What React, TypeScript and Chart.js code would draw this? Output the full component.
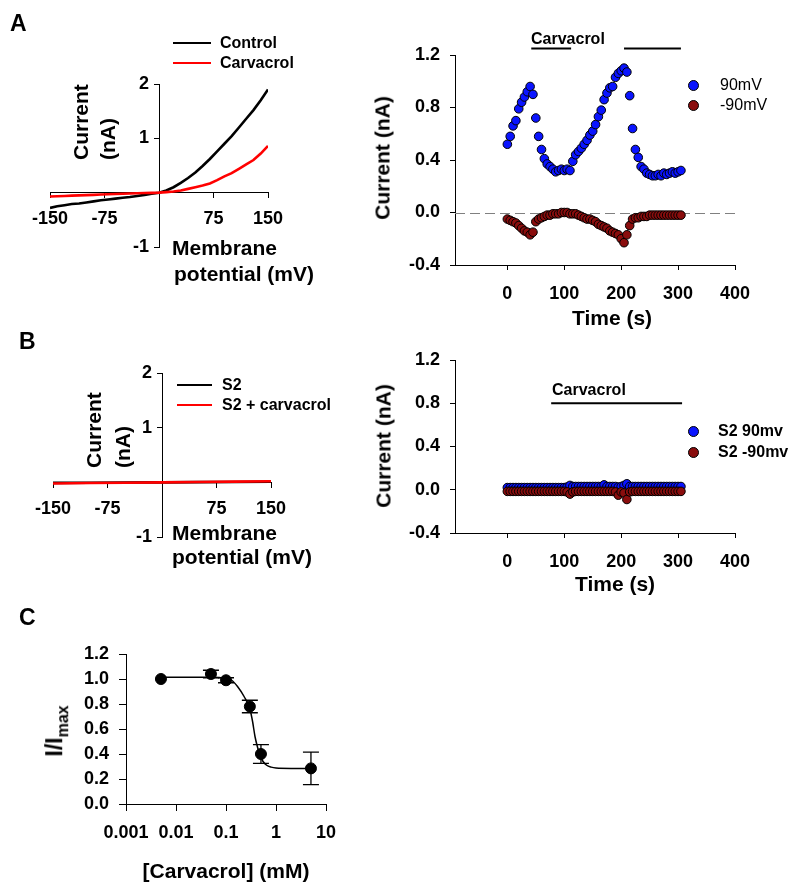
import React, { useEffect, useRef } from "react";
import { Chart, registerables } from "chart.js";
Chart.register(...registerables);

const FONT = "'Liberation Sans', Arial, Helvetica, sans-serif";
const W = 800;
const H = 895;

// ---------- Panel A / B : I-V curves ----------
const ivVoltage = [-150, -140, -130, -120, -110, -100, -90, -80, -70, -60, -50, -40, -30, -20, -10, 0, 10, 20, 30, 40, 50, 60, 70, 80, 90, 100, 110, 120, 130, 140, 150];
const ivControl = [-0.28, -0.25, -0.23, -0.21, -0.2, -0.18, -0.16, -0.14, -0.125, -0.11, -0.095, -0.08, -0.06, -0.04, -0.02, 0, 0.04, 0.1, 0.18, 0.27, 0.37, 0.49, 0.62, 0.76, 0.9, 1.04, 1.2, 1.36, 1.52, 1.7, 1.9];
const ivCarvacrol = [-0.07, -0.065, -0.06, -0.055, -0.05, -0.045, -0.04, -0.035, -0.03, -0.025, -0.02, -0.015, -0.01, -0.007, -0.003, 0, 0.01, 0.02, 0.04, 0.07, 0.1, 0.13, 0.17, 0.23, 0.3, 0.36, 0.44, 0.52, 0.6, 0.72, 0.86];
const ivS2Voltage = [-150, -100, -50, 0, 50, 100, 150];
const ivS2 = [-0.01, -0.007, -0.003, 0, 0.003, 0.007, 0.01];
const ivS2Carvacrol = [-0.02, -0.013, -0.007, 0, 0.007, 0.013, 0.02];
const ivXTicks = [-150, -75, 0, 75, 150];
const ivYTicks = [-1, 0, 1, 2];

// ---------- Panel A / B : time courses ----------
const timeSec = [0, 5, 10, 15, 20, 25, 30, 35, 40, 45, 50, 55, 60, 65, 70, 75, 80, 85, 90, 95, 100, 105, 110, 115, 120, 125, 130, 135, 140, 145, 150, 155, 160, 165, 170, 175, 180, 185, 190, 195, 200, 205, 210, 215, 220, 225, 230, 235, 240, 245, 250, 255, 260, 265, 270, 275, 280, 285, 290, 295, 300, 305];
const a90mV = [0.52, 0.58, 0.66, 0.7, 0.79, 0.84, 0.88, 0.92, 0.96, 0.9, 0.72, 0.58, 0.48, 0.41, 0.37, 0.35, 0.33, 0.31, 0.32, 0.33, 0.32, 0.33, 0.32, 0.39, 0.44, 0.465, 0.49, 0.52, 0.55, 0.59, 0.62, 0.67, 0.73, 0.78, 0.86, 0.91, 0.95, 0.96, 1.03, 1.06, 1.08, 1.1, 1.07, 0.89, 0.64, 0.48, 0.42, 0.35, 0.33, 0.3, 0.29, 0.28, 0.28, 0.29, 0.28, 0.3, 0.29, 0.3, 0.31, 0.3, 0.31, 0.32];
const aMinus90mV = [-0.05, -0.06, -0.07, -0.08, -0.1, -0.12, -0.14, -0.15, -0.17, -0.15, -0.07, -0.05, -0.04, -0.03, -0.02, -0.02, -0.01, -0.01, -0.01, 0, 0, 0, -0.01, -0.01, -0.01, -0.02, -0.03, -0.04, -0.05, -0.05, -0.06, -0.07, -0.09, -0.1, -0.11, -0.12, -0.14, -0.15, -0.16, -0.17, -0.2, -0.23, -0.17, -0.1, -0.05, -0.04, -0.04, -0.03, -0.03, -0.03, -0.02, -0.02, -0.02, -0.02, -0.02, -0.02, -0.02, -0.02, -0.02, -0.02, -0.02, -0.02];
const bS2_90mv = [0.02, 0.02, 0.02, 0.02, 0.02, 0.02, 0.02, 0.02, 0.02, 0.02, 0.02, 0.02, 0.02, 0.02, 0.02, 0.02, 0.02, 0.02, 0.02, 0.02, 0.02, 0.025, 0.04, 0.03, 0.03, 0.03, 0.03, 0.03, 0.03, 0.03, 0.03, 0.03, 0.03, 0.03, 0.045, 0.03, 0.03, 0.03, 0.03, 0.025, 0.03, 0.04, 0.055, 0.03, 0.03, 0.03, 0.03, 0.03, 0.03, 0.03, 0.03, 0.03, 0.03, 0.03, 0.03, 0.03, 0.03, 0.03, 0.03, 0.03, 0.03, 0.03];
const bS2_m90mv = [-0.015, -0.015, -0.015, -0.015, -0.015, -0.015, -0.015, -0.015, -0.015, -0.015, -0.015, -0.015, -0.015, -0.015, -0.015, -0.015, -0.015, -0.015, -0.015, -0.015, -0.015, -0.02, -0.04, -0.02, -0.015, -0.015, -0.015, -0.015, -0.015, -0.015, -0.015, -0.015, -0.015, -0.015, -0.015, -0.015, -0.015, -0.015, -0.02, -0.05, -0.02, -0.03, -0.09, -0.02, -0.015, -0.015, -0.015, -0.015, -0.015, -0.015, -0.015, -0.015, -0.015, -0.015, -0.015, -0.015, -0.015, -0.015, -0.015, -0.015, -0.015, -0.015];
const timeXTicks = [0, 100, 200, 300, 400];
const timeYTicks = [-0.4, 0, 0.4, 0.8, 1.2];
const carvacrolSpansA = [[42, 112], [205, 305]];
const carvacrolLevelA = 1.25;
const carvacrolSpansB = [[77, 307]];
const carvacrolLevelB = 0.8;

// ---------- Panel C : dose response ----------
const doseConc = [0.005, 0.05, 0.1, 0.3, 0.5, 5];
const doseResp = [1.0, 1.04, 0.99, 0.78, 0.4, 0.285];
const doseErr = [0, 0.03, 0.02, 0.05, 0.075, 0.13];
const fitConc = [0.005, 0.05, 0.1, 0.13, 0.17, 0.23, 0.3, 0.34, 0.38, 0.43, 0.48, 0.55, 0.65, 0.8, 1, 2, 5];
const fitResp = [1.015, 1.015, 1.005, 0.99, 0.94, 0.86, 0.76, 0.66, 0.54, 0.45, 0.39, 0.34, 0.31, 0.295, 0.288, 0.285, 0.285];
const doseXTicks = [0.001, 0.01, 0.1, 1, 10];
const doseYTicks = [0, 0.2, 0.4, 0.6, 0.8, 1.0, 1.2];

const BLUE = "#0a14ff";
const MAROON = "#8a0d0d";

const tickFont = { family: FONT, size: 18, weight: "bold" as const };

function axisStyle(tickLength: number, padding: number) {
  return {
    ticks: { font: tickFont, color: "#000", padding, maxRotation: 0, autoSkip: false },
    grid: { display: true, drawOnChartArea: false, drawTicks: true, tickLength, color: "#000", lineWidth: 1 },
    border: { display: true, color: "#000", width: 1 },
  };
}

function setTicks(values: number[]) {
  return (s: any) => {
    s.ticks = values.map((v) => ({ value: v }));
  };
}

const baseOptions = {
  animation: false,
  responsive: false,
  devicePixelRatio: 1,
  events: [],
  plugins: { legend: { display: false }, tooltip: { enabled: false } },
};

type Area = { l: number; r: number; t: number; b: number };

function ivConfig(area: Area, v1: number[], y1: number[], v2: number[], y2: number[]) {
  const xs = axisStyle(5, 11);
  const ys = axisStyle(5, 7);
  return {
    type: "line",
    data: {
      datasets: [
        { data: v2.map((v, i) => ({ x: v, y: y2[i] })), borderColor: "#ff0000", borderWidth: 2.6, pointRadius: 0, order: 0 },
        { data: v1.map((v, i) => ({ x: v, y: y1[i] })), borderColor: "#000000", borderWidth: 2.6, pointRadius: 0, order: 1 },
      ],
    },
    options: {
      ...baseOptions,
      layout: { padding: { left: area.l, right: W - area.r, top: area.t, bottom: H - area.b } },
      scales: {
        x: {
          type: "linear", min: -150, max: 150, position: { y: 0 },
          afterFit: (s: any) => { s.height = 0; },
          afterBuildTicks: setTicks(ivXTicks),
          ...xs,
          ticks: { ...xs.ticks, callback: (v: any) => (v === 0 ? "" : String(v)) },
        },
        y: {
          type: "linear", min: -1, max: 2, position: { x: 0 },
          afterFit: (s: any) => { s.width = 0; },
          afterBuildTicks: setTicks(ivYTicks),
          ...ys,
          // the centred axis draws its labels flush with the axis line: keep a gap
          ticks: { ...ys.ticks, callback: (v: any) => (v === 0 ? "" : String(v) + "  ") },
        },
      },
    },
  };
}

function barsPlugin(spans: number[][], level: number) {
  return {
    id: "carvacrolBars",
    afterDraw(chart: any) {
      const { ctx, scales } = chart;
      const y = scales.y.getPixelForValue(level);
      ctx.save();
      ctx.strokeStyle = "#000";
      ctx.lineWidth = 2;
      spans.forEach(([a, b]) => {
        ctx.beginPath();
        ctx.moveTo(scales.x.getPixelForValue(a), y);
        ctx.lineTo(scales.x.getPixelForValue(b), y);
        ctx.stroke();
      });
      ctx.restore();
    },
  };
}

const zeroDashPlugin = {
  id: "zeroDash",
  beforeDatasetsDraw(chart: any) {
    const { ctx, chartArea, scales } = chart;
    const y = Math.round(scales.y.getPixelForValue(0)) + 0.5;
    ctx.save();
    ctx.strokeStyle = "#808080";
    ctx.lineWidth = 1;
    ctx.setLineDash([10, 5]);
    ctx.beginPath();
    ctx.moveTo(chartArea.left, y);
    ctx.lineTo(chartArea.right, y);
    ctx.stroke();
    ctx.restore();
  },
};

function timeConfig(area: Area, pos: number[], neg: number[], plugins: any[]) {
  const xs = axisStyle(5, 13);
  const ys = axisStyle(5, 10);
  return {
    type: "scatter",
    data: {
      datasets: [
        { data: timeSec.map((t, i) => ({ x: t, y: neg[i] })), backgroundColor: MAROON, borderColor: "#000", borderWidth: 1, pointRadius: 4.3, order: 0 },
        { data: timeSec.map((t, i) => ({ x: t, y: pos[i] })), backgroundColor: BLUE, borderColor: "#000", borderWidth: 1, pointRadius: 4.3, order: 1 },
      ],
    },
    options: {
      ...baseOptions,
      layout: { padding: { left: area.l - 60, right: W - area.r, top: area.t, bottom: H - area.b - 50 } },
      scales: {
        x: {
          type: "linear", min: -92, max: 400, position: "bottom",
          afterFit: (s: any) => { s.height = 50; },
          afterBuildTicks: setTicks(timeXTicks),
          ...xs,
          ticks: { ...xs.ticks, callback: (v: any) => String(v) },
        },
        y: {
          type: "linear", min: -0.4, max: 1.2, position: "left",
          afterFit: (s: any) => { s.width = 60; },
          afterBuildTicks: setTicks(timeYTicks),
          ...ys,
          ticks: { ...ys.ticks, callback: (v: any) => Number(v).toFixed(1) },
        },
      },
    },
    plugins,
  };
}

const errorBarPlugin = {
  id: "errorBars",
  beforeDatasetsDraw(chart: any) {
    const { ctx, scales } = chart;
    ctx.save();
    ctx.strokeStyle = "#000";
    ctx.lineWidth = 1.3;
    doseConc.forEach((c, i) => {
      if (!doseErr[i]) return;
      const x = scales.x.getPixelForValue(c);
      const yT = scales.y.getPixelForValue(doseResp[i] + doseErr[i]);
      const yB = scales.y.getPixelForValue(doseResp[i] - doseErr[i]);
      ctx.beginPath();
      ctx.moveTo(x, yT); ctx.lineTo(x, yB);
      ctx.moveTo(x - 8, yT); ctx.lineTo(x + 8, yT);
      ctx.moveTo(x - 8, yB); ctx.lineTo(x + 8, yB);
      ctx.stroke();
    });
    ctx.restore();
  },
};

function doseConfig(area: Area) {
  const xs = axisStyle(7, 11);
  const ys = axisStyle(7, 10);
  return {
    type: "line",
    data: {
      datasets: [
        { type: "scatter", data: doseConc.map((c, i) => ({ x: c, y: doseResp[i] })), backgroundColor: "#000", borderColor: "#000", borderWidth: 1, pointRadius: 5.5, showLine: false, order: 0 },
        { type: "line", data: fitConc.map((c, i) => ({ x: c, y: fitResp[i] })), borderColor: "#000", borderWidth: 1.5, pointRadius: 0, cubicInterpolationMode: "monotone", order: 1 },
      ],
    },
    options: {
      ...baseOptions,
      layout: { padding: { left: area.l - 60, right: W - area.r, top: area.t, bottom: H - area.b - 50 } },
      scales: {
        x: {
          type: "logarithmic", min: 0.001, max: 10, position: "bottom",
          afterFit: (s: any) => { s.height = 50; },
          afterBuildTicks: setTicks(doseXTicks),
          ...xs,
          ticks: { ...xs.ticks, callback: (v: any) => String(v) },
        },
        y: {
          type: "linear", min: 0, max: 1.2, position: "left",
          afterFit: (s: any) => { s.width = 60; },
          afterBuildTicks: setTicks(doseYTicks),
          ...ys,
          ticks: { ...ys.ticks, callback: (v: any) => Number(v).toFixed(1) },
        },
      },
    },
    plugins: [errorBarPlugin],
  };
}

function ChartCanvas({ make }: { make: () => any }) {
  const ref = useRef<HTMLCanvasElement | null>(null);
  useEffect(() => {
    if (!ref.current) return;
    const chart = new Chart(ref.current, make());
    return () => chart.destroy();
  }, []);
  return <canvas ref={ref} width={W} height={H} style={{ position: "absolute", left: 0, top: 0, width: W, height: H }} />;
}

type LabelProps = { x: number; y: number; size?: number; weight?: string; mode?: "left" | "center" | "rot"; children: React.ReactNode };
function Label({ x, y, size = 21, weight = "bold", mode = "left", children }: LabelProps) {
  const transform = mode === "rot" ? "translate(-50%,-50%) rotate(-90deg)" : mode === "center" ? "translate(-50%,-50%)" : "translateY(-50%)";
  return (
    <div style={{ position: "absolute", left: x, top: y, transform, fontFamily: FONT, fontWeight: weight as any, fontSize: size, lineHeight: 1, whiteSpace: "nowrap", color: "#000" }}>
      {children}
    </div>
  );
}

function IvYTitle({ cx, cy, lh }: { cx: number; cy: number; lh: number }) {
  return (
    <div style={{ position: "absolute", left: cx, top: cy, width: 78, transform: "translate(-50%,-50%) rotate(-90deg)", fontFamily: FONT, fontWeight: "bold", fontSize: 21, lineHeight: `${lh}px`, textAlign: "left", whiteSpace: "nowrap", color: "#000" }}>
      Current<br />(nA)
    </div>
  );
}

function LegendLine({ x1, x2, y, color }: { x1: number; x2: number; y: number; color: string }) {
  return <div style={{ position: "absolute", left: x1, top: y - 1.25, width: x2 - x1, height: 2.5, background: color }} />;
}

function LegendDot({ cx, cy, color }: { cx: number; cy: number; color: string }) {
  return <div style={{ position: "absolute", left: cx - 5.5, top: cy - 5.5, width: 11, height: 11, borderRadius: "50%", background: color, border: "1px solid #000", boxSizing: "border-box" }} />;
}

export default function App() {
  return (
    <div style={{ position: "absolute", left: 0, top: 0, width: W, height: H, background: "#fff", overflow: "hidden" }}>
      <ChartCanvas make={() => ivConfig({ l: 50, r: 268, t: 84, b: 247 }, ivVoltage, ivControl, ivVoltage, ivCarvacrol)} />
      <ChartCanvas make={() => timeConfig({ l: 455, r: 735, t: 55, b: 265 }, a90mV, aMinus90mV, [zeroDashPlugin, barsPlugin(carvacrolSpansA, carvacrolLevelA)])} />
      <ChartCanvas make={() => ivConfig({ l: 53, r: 271, t: 373, b: 537 }, ivS2Voltage, ivS2, ivS2Voltage, ivS2Carvacrol)} />
      <ChartCanvas make={() => timeConfig({ l: 455, r: 735, t: 360, b: 533 }, bS2_90mv, bS2_m90mv, [barsPlugin(carvacrolSpansB, carvacrolLevelB)])} />
      <ChartCanvas make={() => doseConfig({ l: 126, r: 326, t: 654, b: 804 })} />

      {/* Panel letters */}
      <Label x={10} y={23} size={23}>A</Label>
      <Label x={19} y={341} size={23}>B</Label>
      <Label x={19} y={617} size={23}>C</Label>

      {/* A left */}
      <LegendLine x1={173} x2={211} y={43} color="#000" />
      <LegendLine x1={173} x2={211} y={63} color="#ff0000" />
      <Label x={220} y={43} size={16}>Control</Label>
      <Label x={220} y={63} size={16}>Carvacrol</Label>
      <IvYTitle cx={94} cy={121} lh={27} />
      <Label x={172} y={247}>Membrane</Label>
      <Label x={174} y={273}>potential (mV)</Label>

      {/* A right */}
      <Label x={531} y={39} size={16}>Carvacrol</Label>
      <Label x={382} y={158} mode="rot">Current (nA)</Label>
      <Label x={612} y={317} mode="center">Time (s)</Label>
      <LegendDot cx={693} cy={85} color={BLUE} />
      <LegendDot cx={693} cy={105} color={MAROON} />
      <Label x={720} y={85} size={16} weight="normal">90mV</Label>
      <Label x={720} y={105} size={16} weight="normal">-90mV</Label>

      {/* B left */}
      <LegendLine x1={177} x2={212} y={385} color="#000" />
      <LegendLine x1={177} x2={212} y={405} color="#ff0000" />
      <Label x={222} y={385} size={16}>S2</Label>
      <Label x={222} y={405} size={16}>S2 + carvacrol</Label>
      <IvYTitle cx={108} cy={429} lh={29} />
      <Label x={172} y={532}>Membrane</Label>
      <Label x={172} y={556}>potential (mV)</Label>

      {/* B right */}
      <Label x={552} y={390} size={16}>Carvacrol</Label>
      <Label x={383} y={446} mode="rot">Current (nA)</Label>
      <Label x={615} y={583} mode="center">Time (s)</Label>
      <LegendDot cx={693} cy={431} color={BLUE} />
      <LegendDot cx={693} cy={452} color={MAROON} />
      <Label x={718} y={431} size={16}>S2 90mv</Label>
      <Label x={718} y={452} size={16}>S2 -90mv</Label>

      {/* C */}
      <div style={{ position: "absolute", left: 57, top: 731, transform: "translate(-50%,-50%) rotate(-90deg)", fontFamily: FONT, fontWeight: "bold", fontSize: 23, lineHeight: 1, whiteSpace: "nowrap", color: "#000" }}>
        I/I<sub style={{ fontSize: 16 }}>max</sub>
      </div>
      <Label x={226} y={870} mode="center">[Carvacrol] (mM)</Label>
    </div>
  );
}
